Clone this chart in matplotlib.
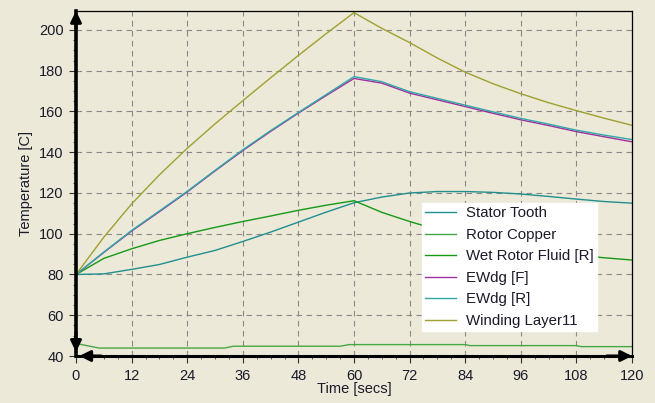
import matplotlib
matplotlib.use('Agg')
import matplotlib.pyplot as plt
import numpy as np

# time samples (secs)
time = [0, 6, 12, 18, 24, 30, 36, 42, 48, 54, 60, 66, 72, 78, 84, 90, 96, 102, 108, 114, 120]

stator_tooth = [80, 80.3, 82.5, 84.9, 88.5, 91.8, 96.2, 100.8, 105.7, 110.6, 115.2,
                118, 120, 120.7, 120.7, 120.3, 119.5, 118.3, 117, 115.8, 115]
wet_rotor_fluid = [80, 87.9, 92.6, 96.7, 100, 103.1, 106, 108.7, 111.5, 114, 116.2,
                   110.5, 106, 102, 98.6, 95.6, 93.2, 91.2, 89.6, 88.2, 87.1]
ewdg_f = [80, 90.8, 101.3, 110.8, 120.5, 130.8, 140.8, 150.2, 159.2, 167.8, 176.2,
          173.9, 169, 165.7, 162.4, 159.1, 155.9, 153.1, 150.1, 147.6, 145.1]
ewdg_r = [80, 91, 101.6, 111.2, 120.8, 131.1, 141.2, 150.6, 159.5, 168.3, 177.1,
          174.6, 169.7, 166.4, 163.1, 159.8, 156.6, 153.8, 150.8, 148.4, 146.2]
winding_layer11 = [80, 98.3, 114.6, 128.9, 141.9, 153.9, 165.3, 176.5, 187.5, 198.2, 208.5,
                   200.8, 193.8, 186.2, 179.3, 173.6, 168.7, 164.3, 160.4, 156.7, 153.2]

# rotor copper is nearly flat with small steps
time_copper = [0, 1, 5, 32, 34, 57, 59, 84, 85, 108, 109, 120]
rotor_copper = [45.7, 45.7, 43.9, 43.9, 44.8, 44.8, 45.6, 45.6, 45.1, 45.1, 44.6, 44.6]

x_ticks = np.arange(0, 121, 12)
y_ticks = np.arange(40, 201, 20)

bg = '#ECE9D8'
txt_color = '#1a1a2a'
plt.rcParams['font.family'] = ['Liberation Sans', 'DejaVu Sans']
plt.rcParams['font.size'] = 10.5

fig = plt.figure(figsize=(6.55, 4.03), dpi=100, facecolor=bg)
ax = fig.add_axes([76 / 655, 1 - 356 / 403, (632 - 76) / 655, (356 - 11) / 403])
ax.set_facecolor(bg)

ax.plot(time, stator_tooth, color='#208f8f', lw=1.0, label='Stator Tooth')
ax.plot(time_copper, rotor_copper, color='#45a845', lw=1.0, label='Rotor Copper')
ax.plot(time, wet_rotor_fluid, color='#159a15', lw=1.0, label='Wet Rotor Fluid [R]')
ax.plot(time, ewdg_f, color='#a030a0', lw=1.0, label='EWdg [F]')
ax.plot(time, ewdg_r, color='#30a8a8', lw=1.0, label='EWdg [R]')
ax.plot(time, winding_layer11, color='#a0a030', lw=1.0, label='Winding Layer11')

ax.set_xlim(0, 120)
ax.set_ylim(40, 209.3)
ax.set_xticks(x_ticks)
ax.set_yticks(y_ticks)
ax.set_xticks(np.arange(0, 121, 3), minor=True)
ax.set_yticks(np.arange(40, 206, 5), minor=True)
ax.grid(True, which='major', color='#8a8a8a', linestyle=(0, (5, 4)), lw=0.8)

ax.tick_params(which='major', length=5, width=0.8, colors='#333333', labelcolor=txt_color, labelsize=10.5)
ax.tick_params(axis='y', which='major', pad=4)
ax.tick_params(axis='x', which='major', pad=4)
ax.tick_params(which='minor', length=2.5, width=0.7, colors='#555555')

for side in ['top', 'right']:
    ax.spines[side].set_linewidth(0.9)
    ax.spines[side].set_color('black')
ax.spines['left'].set_linewidth(2.6)
ax.spines['bottom'].set_linewidth(2.2)

# arrow heads on the axes
arrow_kw = dict(arrowstyle='-|>', color='black', lw=2.2, mutation_scale=16, shrinkA=0, shrinkB=0)
ax.annotate('', xy=(0, 1.0), xytext=(0, 0.95), xycoords='axes fraction', arrowprops=arrow_kw,
            annotation_clip=False)
ax.annotate('', xy=(0, 0.012), xytext=(0, 0.07), xycoords='axes fraction', arrowprops=arrow_kw,
            annotation_clip=False)
ax.annotate('', xy=(1.0, 0), xytext=(0.955, 0), xycoords='axes fraction', arrowprops=arrow_kw,
            annotation_clip=False)
ax.annotate('', xy=(0.006, 0), xytext=(0.045, 0), xycoords='axes fraction', arrowprops=arrow_kw,
            annotation_clip=False)

ax.set_xlabel('Time [secs]', color=txt_color, fontsize=10.5, labelpad=0)
ax.set_ylabel('Temperature [C]', color=txt_color, fontsize=10.5, labelpad=4)

leg = ax.legend(loc='upper left', bbox_to_anchor=(422 / 655, 1 - 203 / 403),
                bbox_transform=fig.transFigure, borderaxespad=0, frameon=True,
                fancybox=False, framealpha=1, edgecolor='white', facecolor='white',
                handlelength=2.05, handletextpad=0.65, labelspacing=0.5, borderpad=0.22,
                fontsize=10.8)
for txt in leg.get_texts():
    txt.set_color(txt_color)

fig.savefig('out.png', dpi=100, facecolor=bg)
